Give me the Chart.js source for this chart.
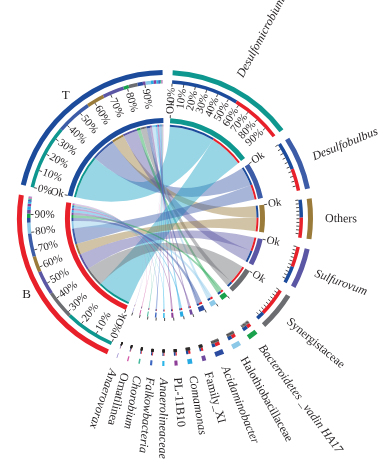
<!DOCTYPE html>
<html>
<head>
<meta charset="utf-8">
<script src="https://cdn.jsdelivr.net/npm/chart.js@4.4.1/dist/chart.umd.min.js"></script>
<style>
  body { margin: 0; background: #fff; }
</style>
</head>
<body>
<canvas id="myChart" width="392" height="470"></canvas>
<script>
// genus sectors, clockwise from the top
const genera = ['Desulfomicrobium', 'Desulfobulbus', 'Others', 'Sulfurovum', 'Synergistaceae',
  'Bacteroidetes _vadin HA17', 'Halothiobacillaceae', 'Acidaminobacter', 'Family_XI', 'Comamonas',
  'PL-11B10', 'Anaerolineaceae', 'Falkowbacteria', 'Chorobium', 'Ornatilinea', 'Anaerovorax'];
const italicName = [true, true, false, true, false, true, false, true, false, true, false, true, true, true, false, true];
const genusSize = [66, 28, 21, 21, 20, 5, 4.5, 4.5, 2, 2.4, 1.6, 1.1, 1.1, 0.8, 0.7, 0.4];
const genusTShare = [57, 56, 47, 46, 22, 55, 50, 40, 40, 50, 55, 50, 55, 50, 50, 50];  // % of the genus from T
const genusTFirst = [true, true, true, false, false, false, false, false, false, false, false, false, false, false, false, false];

// % of each sample going to each genus (same order as genera)
const tValues = [36, 20, 10, 12, 5, 3, 3, 3, 1.5, 1.5, 1.5, 1, 1, 0.8, 0.5, 0.2];
const bValues = [28, 13, 9, 13.5, 16, 2.5, 6, 2.5, 2, 2, 1.5, 1, 1, 0.8, 0.7, 0.5];
const tOrder = [0, 1, 2, 3, 5, 4, 7, 8, 6, 9, 10, 11, 12, 13, 14, 15];
const bOrder = [0, 4, 3, 2, 1, 6, 7, 5, 8, 9, 10, 11, 12, 13, 14, 15];

const samples = ['B', 'T'];
const sampleColors = ['#e8202a', '#1c4b9c'];
const genusColors = ['#0e978f', '#3c5ca8', '#9a7b3a', '#5c57a5', '#6b6d70', '#19a14b', '#8cc8e8', '#2a4b9f',
  '#6f4a9e', '#27a9e1', '#8d3f97', '#2bb5e8', '#3d67c0', '#45b99c', '#d35ba8', '#9d8fcf'];
const linkColors = ['#1da3c5', '#3c5ca8', '#9a7b3a', '#5c57a5', '#6b6d70', '#19a14b', '#8cc8e8', '#2a4b9f',
  '#6f4a9e', '#27a9e1', '#8d3f97', '#2bb5e8', '#3d67c0', '#45b99c', '#d35ba8', '#9d8fcf'];
const tickLabels = ['0%', '10%', '20%', '30%', '40%', '50%', '60%', '70%', '80%', '90%'];
const labelledSectors = ['Desulfomicrobium', 'B', 'T'];

const GAP = 5.2;
const CLEAR = 'rgba(0,0,0,0)';
const FONT = "'Liberation Serif', 'Times New Roman', serif";

const sectorNames = genera.concat(samples);
const sectorSizes = genusSize.concat([100, 100]);
const sectorColors = genusColors.concat(sampleColors);

// outer ring + inner thick ring: one piece per sector
let outerData = [], outerColors = [];
sectorSizes.forEach((s, k) => {
    outerData.push(s, GAP);
    outerColors.push(sectorColors[k], CLEAR);
});

// composition ring: T/B split for genera, genus split for samples
let compData = [], compColors = [];
let genusEnd = { T: [], B: [] };
let sampleEnd = { T: [], B: [] };
genera.forEach((g, i) => {
    let t = genusSize[i] * genusTShare[i] / 100;
    let pieces = genusTFirst[i] ? [['T', t], ['B', genusSize[i] - t]] : [['B', genusSize[i] - t], ['T', t]];
    pieces.forEach(([side, v]) => {
        genusEnd[side][i] = compData.length;
        compData.push(v);
        compColors.push(side == 'T' ? sampleColors[1] : sampleColors[0]);
    });
    compData.push(GAP); compColors.push(CLEAR);
});
bOrder.forEach(i => {
    sampleEnd.B[i] = compData.length;
    compData.push(bValues[i]); compColors.push(genusColors[i]);
});
compData.push(GAP); compColors.push(CLEAR);
tOrder.forEach(i => {
    sampleEnd.T[i] = compData.length;
    compData.push(tValues[i]); compColors.push(genusColors[i]);
});
compData.push(GAP); compColors.push(CLEAR);

function ring(data, colors, weight) {
    return { data: data, backgroundColor: colors, borderWidth: 0, hoverOffset: 0, offset: 0, weight: weight };
}
function spacer(weight) {
    return ring([1], [CLEAR], weight);
}

function rgba(hex, a) {
    let n = parseInt(hex.slice(1), 16);
    return `rgba(${n >> 16},${(n >> 8) & 255},${n & 255},${a})`;
}

const chordPlugin = {
    id: 'chord',
    beforeDatasetsDraw(chart) {
        let ctx = chart.ctx;
        let thin = chart.getDatasetMeta(6).data;
        let cx = thin[0].x, cy = thin[0].y, r = thin[0].innerRadius;

        function ribbon(p, q, color) {
            ctx.beginPath();
            ctx.arc(cx, cy, r, p.startAngle, p.endAngle);
            ctx.quadraticCurveTo(cx, cy, cx + r * Math.cos(q.startAngle), cy + r * Math.sin(q.startAngle));
            ctx.arc(cx, cy, r, q.startAngle, q.endAngle);
            ctx.quadraticCurveTo(cx, cy, cx + r * Math.cos(p.startAngle), cy + r * Math.sin(p.startAngle));
            ctx.closePath();
            ctx.fillStyle = color;
            ctx.fill();
        }

        ctx.save();
        ['T', 'B'].forEach(side => {
            genera.forEach((g, i) => {
                ribbon(thin[sampleEnd[side][i]], thin[genusEnd[side][i]], rgba(linkColors[i], 0.45));
            });
        });
        ctx.restore();
    },
    afterDatasetsDraw(chart) {
        let ctx = chart.ctx;
        let outer = chart.getDatasetMeta(0).data;
        let comp = chart.getDatasetMeta(2).data;
        let inner = chart.getDatasetMeta(4).data;
        let cx = outer[0].x, cy = outer[0].y;
        let rTick = comp[0].innerRadius;
        let rInner = inner[0].outerRadius;

        function radialText(text, a, r, outward, align, font) {
            ctx.save();
            ctx.translate(cx + r * Math.cos(a), cy + r * Math.sin(a));
            ctx.rotate(outward ? a : a + Math.PI);
            ctx.textAlign = align;
            ctx.textBaseline = 'middle';
            ctx.font = font;
            ctx.fillText(text, 0, 0);
            ctx.restore();
        }
        function line(a, r1, r2) {
            ctx.beginPath();
            ctx.moveTo(cx + r1 * Math.cos(a), cy + r1 * Math.sin(a));
            ctx.lineTo(cx + r2 * Math.cos(a), cy + r2 * Math.sin(a));
            ctx.stroke();
        }

        ctx.save();
        ctx.strokeStyle = '#231f20';
        ctx.fillStyle = '#231f20';
        ctx.lineWidth = 0.8;

        sectorNames.forEach((name, k) => {
            let arc = outer[2 * k];
            let a0 = arc.startAngle, a1 = arc.endAngle;
            let theta = ((a0 + Math.PI / 2) % (2 * Math.PI) + 2 * Math.PI) % (2 * Math.PI);
            let right = theta < Math.PI;

            // ticks on the composition ring
            tickLabels.forEach((lab, j) => {
                let a = a0 + (a1 - a0) * j / 10;
                let th = ((a + Math.PI / 2) % (2 * Math.PI) + 2 * Math.PI) % (2 * Math.PI);
                line(a, rTick, rTick - 3);
                if (labelledSectors.includes(name)) {
                    let rt = th < Math.PI;
                    radialText(lab, a, rTick - 4, rt, rt ? 'right' : 'left', '11px ' + FONT);
                }
            });

            // start tick on the inner ring
            line(a0, rInner, rInner + 3);
            if (sectorSizes[k] >= 10) {
                radialText('Ok', a0, rInner + 4, right, right ? 'left' : 'right', '11px ' + FONT);
            }

            // sector names
            let mid = (a0 + a1) / 2;
            if (k < genera.length) {
                radialText(name, mid, 160, true, 'left', (italicName[k] ? 'italic ' : '') + '12px ' + FONT);
            } else {
                ctx.font = '13px ' + FONT;
                ctx.textAlign = 'center';
                ctx.textBaseline = 'middle';
                ctx.fillText(name, cx + 158 * Math.cos(mid), cy + 158 * Math.sin(mid));
            }
        });
        ctx.restore();
    }
};

let myChart = new Chart(document.getElementById('myChart'), {
    type: 'doughnut',
    data: {
        datasets: [
            ring(outerData, outerColors, 5),
            spacer(5),
            ring(compData, compColors, 3.5),
            spacer(34.5),
            ring(outerData, outerColors, 5),
            spacer(1.5),
            ring(compData, compColors, 2)
        ]
    },
    options: {
        responsive: false,
        animation: false,
        events: [],
        rotation: 3,
        circumference: 360,
        cutout: 91.5,
        layout: { padding: { left: 17, top: 70, right: 79, bottom: 104 } },
        plugins: { legend: { display: false }, tooltip: { enabled: false } }
    },
    plugins: [chordPlugin]
});
</script>
</body>
</html>
